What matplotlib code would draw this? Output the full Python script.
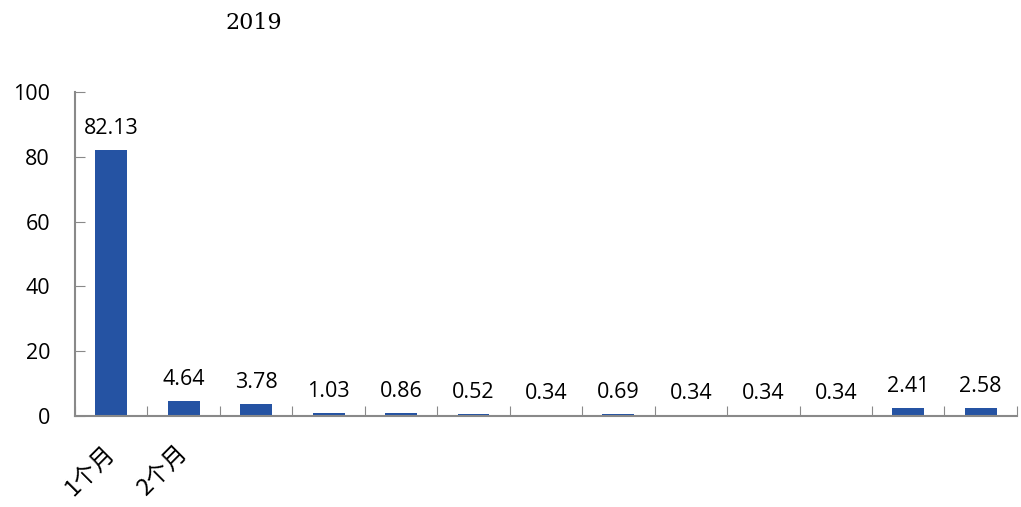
import numpy as np
import matplotlib.pyplot as plt

plt.rcParams['font.family'] = ['Open Sans', 'Noto Sans CJK SC', 'DejaVu Sans']

categories = ['1个月', '2个月', '', '', '', '', '', '', '', '', '', '', '']
values = [82.13, 4.64, 3.78, 1.03, 0.86, 0.52, 0.34, 0.69, 0.34, 0.34, 0.34, 2.41, 2.58]
title = '2019'

fig = plt.figure(figsize=(10.21, 5.07), dpi=100)
ax = fig.add_axes([0.0735, 0.1795, 0.9225, 0.639])

x = np.arange(len(values))
ax.bar(x, values, width=0.44, color='#2553a3')
for xi, v in zip(x, values):
    ax.annotate(f'{v:.2f}', (xi, v), xytext=(0, 8), textcoords='offset points',
                ha='center', va='bottom', fontsize=15.5)

ax.set_xlim(-0.5, len(values) - 0.5)
ax.set_ylim(0, 100)
ax.set_yticks([0, 20, 40, 60, 80, 100])
ax.tick_params(axis='y', direction='in', length=7, color='#898989', labelsize=15.5, pad=18)

ax.set_xticks(np.arange(len(values) + 1) - 0.5)
ax.set_xticklabels([])
ax.tick_params(axis='x', which='major', direction='in', length=7, color='#898989')
ax.set_xticks(x, minor=True)
ax.set_xticklabels(categories, minor=True, rotation=45, ha='right', va='center',
                   rotation_mode='anchor', fontsize=17, family=['Noto Sans CJK SC', 'DejaVu Sans'])
ax.tick_params(axis='x', which='minor', length=0, pad=24)

for side in ['top', 'right']:
    ax.spines[side].set_visible(False)
for side in ['left', 'bottom']:
    ax.spines[side].set_color('#898989')
    ax.spines[side].set_linewidth(1.5)

fig.text(0.249, 0.955, title, fontsize=16, family='DejaVu Serif', ha='center', va='center')

fig.savefig('out.png', dpi=100)
